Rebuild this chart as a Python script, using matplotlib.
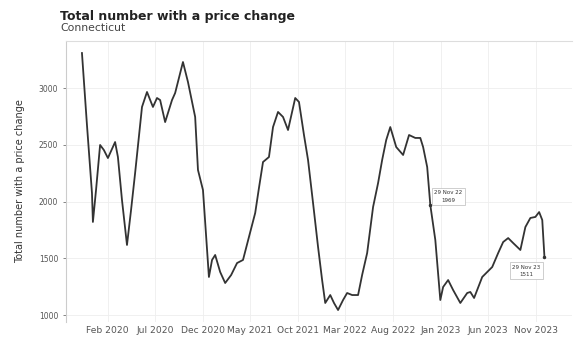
import numpy as np
import pandas as pd
import matplotlib
matplotlib.use("Agg")
import matplotlib.pyplot as plt
import matplotlib.dates as mdates

# values
dates = [
    "2019-11-11", "2019-11-27", "2019-12-13", "2019-12-16", "2019-12-26", "2020-01-08",
    "2020-01-20", "2020-02-02", "2020-02-25", "2020-03-05", "2020-03-18", "2020-04-03",
    "2020-04-16", "2020-04-29", "2020-05-21", "2020-06-06", "2020-06-25", "2020-07-08",
    "2020-07-18", "2020-08-03", "2020-08-25", "2020-09-04", "2020-09-29", "2020-10-15",
    "2020-11-07", "2020-11-16", "2020-12-02", "2020-12-21", "2020-12-31", "2021-01-10",
    "2021-01-26", "2021-02-11", "2021-03-02", "2021-03-21", "2021-04-09", "2021-04-28",
    "2021-05-18", "2021-05-30", "2021-06-12", "2021-07-01", "2021-07-14", "2021-07-30",
    "2021-08-15", "2021-08-31", "2021-09-23", "2021-10-05", "2021-10-21", "2021-11-03",
    "2021-11-19", "2021-12-05", "2021-12-18", "2021-12-28", "2022-01-13", "2022-01-25",
    "2022-02-07", "2022-02-23", "2022-03-08", "2022-03-24", "2022-04-12", "2022-04-25",
    "2022-05-11", "2022-05-30", "2022-06-15", "2022-06-28", "2022-07-11", "2022-07-24",
    "2022-08-12", "2022-09-03", "2022-09-22", "2022-10-12", "2022-10-28", "2022-11-06",
    "2022-11-19", "2022-11-29", "2022-12-15", "2022-12-31", "2023-01-09", "2023-01-25",
    "2023-02-10", "2023-03-05", "2023-03-27", "2023-04-06", "2023-04-18", "2023-05-14",
    "2023-06-15", "2023-07-04", "2023-07-20", "2023-08-05", "2023-08-21", "2023-09-13",
    "2023-09-29", "2023-10-15", "2023-10-31", "2023-11-12", "2023-11-22", "2023-11-29",
]
counts = [
    3308, 2674, 2075, 1820, 2101, 2498,
    2454, 2383, 2524, 2392, 2013, 1617,
    1925, 2251, 2833, 2965, 2833, 2912,
    2894, 2700, 2894, 2956, 3229, 3053,
    2745, 2278, 2101, 1335, 1485, 1529,
    1379, 1282, 1352, 1458, 1485, 1687,
    1899, 2119, 2348, 2392, 2656, 2789,
    2745, 2630, 2912, 2877, 2586, 2366,
    1987, 1600, 1308, 1106, 1176, 1106,
    1044, 1132, 1194, 1176, 1176, 1353,
    1546, 1952, 2163, 2366, 2542, 2656,
    2480, 2410, 2586, 2560, 2560, 2480,
    2304, 1969, 1661, 1132, 1247, 1308,
    1220, 1106, 1194, 1203, 1150, 1335,
    1423, 1546, 1643, 1678, 1634, 1573,
    1775, 1855, 1864, 1907, 1837, 1511,
]
y_ticks = [1000, 1500, 2000, 2500, 3000]
x_ticks = ["2020-02-01", "2020-07-01", "2020-12-01", "2021-05-01", "2021-10-01",
           "2022-03-01", "2022-08-01", "2023-01-01", "2023-06-01", "2023-11-01"]
marked = ["2022-11-29", "2023-11-29"]

dates = pd.to_datetime(dates)
df = pd.DataFrame({"date": dates, "count": counts})

fig = plt.figure(figsize=(5.74, 3.39), dpi=100)
ax = fig.add_axes([0.115, 0.05, 0.882, 0.829])

ax.plot(df["date"], df["count"], color="#333333", linewidth=1.3)

# labels for the two marked dates
for i, d in enumerate(pd.to_datetime(marked)):
    v = df.loc[df["date"] == d, "count"].iloc[0]
    txt = d.strftime("%d %b %y") + "\n" + f"{v}"
    if i == 0:
        off, ha, va = (3, 6), "left", "center"
    else:
        off, ha, va = (-3, -10), "right", "center"
    ax.plot([d], [v], marker="o", markersize=1.5, color="#333333")
    ax.annotate(txt, (d, v), xytext=off, textcoords="offset points",
                ha=ha, va=va, fontsize=4, color="#333333", linespacing=1.6,
                multialignment="center",
                bbox=dict(boxstyle="square,pad=0.4", fc="white", ec="#bbbbbb", lw=0.5))

ax.set_ylim(938, 3414)
ax.set_xlim(pd.Timestamp("2019-09-21"), pd.Timestamp("2024-02-26"))
ax.set_yticks(y_ticks)
ax.set_yticklabels([str(t) for t in y_ticks])
ax.set_xticks(pd.to_datetime(x_ticks))
ax.xaxis.set_major_formatter(mdates.DateFormatter("%b %Y"))
ax.tick_params(axis="y", labelsize=5.5, colors="#555555", length=2, width=0.5)
ax.tick_params(axis="x", labelsize=6.6, colors="#555555", length=0, pad=3)

ax.grid(True, color="#eeeeee", linewidth=0.6)
ax.set_axisbelow(True)
for s in ["right", "bottom"]:
    ax.spines[s].set_visible(False)
ax.spines["top"].set_color("#dddddd")
ax.spines["left"].set_color("#cccccc")
ax.spines["top"].set_linewidth(0.8)
ax.spines["left"].set_linewidth(0.8)

ax.set_ylabel("Total number with a price change", fontsize=7, color="#333333", labelpad=10)

fig.text(0.105, 0.952, "Total number with a price change", fontsize=9, fontweight="bold",
         color="#222222", va="center")
fig.text(0.105, 0.917, "Connecticut", fontsize=7.8, color="#444444", va="center")

fig.savefig("out.png", dpi=100)
